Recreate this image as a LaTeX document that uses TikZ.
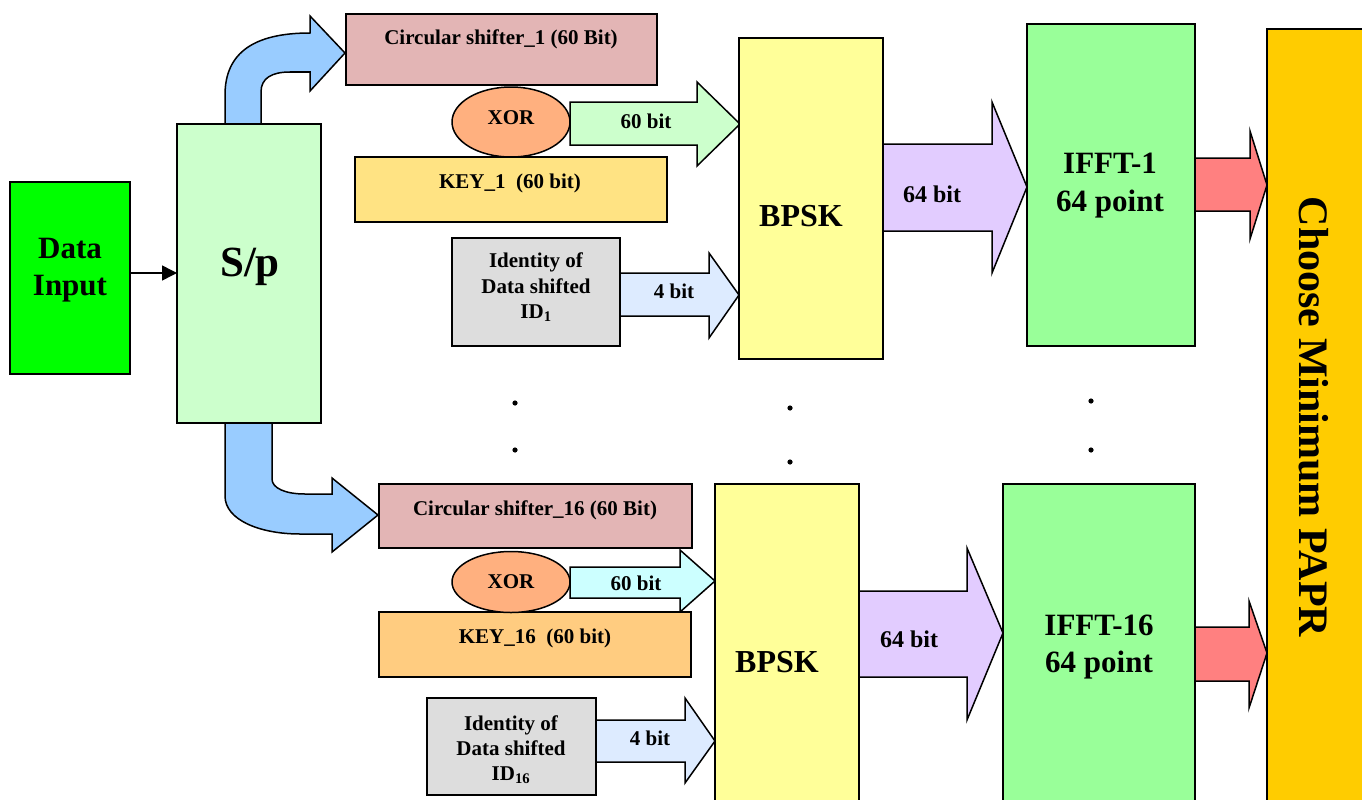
\documentclass[tikz,border=0pt]{standalone}
\usepackage{fontspec}
\setmainfont{Liberation Serif}
\usetikzlibrary{arrows.meta,shapes.geometric}
\newcommand\myfs[2]{\fontsize{#1}{#2}\selectfont\bfseries}
% block arrow: fill, x0, xbase, xtip, shaft top, shaft bottom, head top, head bottom, tip y
\newcommand\blockarr[9]{\draw[barr,fill=#1] (#2,#5) -- (#3,#5) -- (#3,#7) -- (#4,#9) -- (#3,#8) -- (#3,#6) -- (#2,#6) -- cycle;}
\newcommand\boxat[6]{\node[blk,fill=#2,minimum width={#5-#3},minimum height={#6-#4}] (#1) at ({(#3+#5)/2},{(#4+#6)/2}) {};}
\definecolor{cDin}{HTML}{00FF00}
\definecolor{cSp}{HTML}{CCFFCC}
\definecolor{cBlue}{HTML}{99CCFF}
\definecolor{cCs}{HTML}{E3B5B5}
\definecolor{cXor}{HTML}{FFB07F}
\definecolor{cSixtyA}{HTML}{CCFFCC}
\definecolor{cSixtyB}{HTML}{CCFFFF}
\definecolor{cKeyA}{HTML}{FFE383}
\definecolor{cKeyB}{HTML}{FFCC80}
\definecolor{cId}{HTML}{DDDDDD}
\definecolor{cFour}{HTML}{DDEBFF}
\definecolor{cBpsk}{HTML}{FFFF99}
\definecolor{cSixtyFour}{HTML}{E2CCFF}
\definecolor{cIfft}{HTML}{99FF99}
\definecolor{cRed}{HTML}{FF8080}
\definecolor{cChoose}{HTML}{FFCC00}
\begin{document}
\begin{tikzpicture}[x=1pt,y=-1pt,
  blk/.style={draw=black,line width=1.5pt,inner sep=0pt,outer sep=0pt},
  barr/.style={draw=black,line width=1.5pt,line join=miter},
  txt/.style={inner sep=0pt,anchor=base,font=\myfs{21}{25}},
  mid/.style={inner sep=0pt,anchor=base,font=\myfs{24}{28}},
  big/.style={inner sep=0pt,anchor=base,font=\myfs{31}{37}}]
\useasboundingbox (0,0) rectangle (1362,800);

% curved arrows from S/p
\draw[barr,fill=cBlue] (225,124) -- (225,95) .. controls (225,52) and (255,33) .. (310,33)
  -- (310,16) -- (345,53) -- (310,91) -- (310,72) -- (290,72)
  .. controls (272,72) and (261,78) .. (261,92) -- (261,124) -- cycle;
\draw[barr,fill=cBlue] (225,423) -- (225,496) .. controls (225,520) and (260,534) .. (300,534)
  -- (332,534) -- (332,552) -- (378,515) -- (332,478) -- (332,494) -- (305,494)
  .. controls (285,494) and (272,488) .. (272,479) -- (272,423) -- cycle;

% block arrows
\blockarr{cSixtyA}{570}{697}{740}{102}{145}{82}{166}{124}
\blockarr{cFour}{620}{709}{739}{273}{316}{253}{338}{295}
\blockarr{cSixtyFour}{883}{992}{1027}{144}{231}{102}{273}{187}
\blockarr{cRed}{1195}{1250}{1267}{158}{211}{131}{239}{185}
\blockarr{cSixtyB}{570}{680}{715}{567}{598}{550}{612}{581}
\blockarr{cFour}{596}{685}{715}{720}{762}{698}{783}{741}
\blockarr{cSixtyFour}{859}{967}{1003}{591}{677}{548}{720}{633}
\blockarr{cRed}{1195}{1249}{1267}{627}{681}{601}{708}{653}

% boxes
\boxat{din}{cDin}{10}{182}{130}{374}
\boxat{sp}{cSp}{177}{124}{321}{423}
\boxat{cs1}{cCs}{346}{14}{657}{85}
\boxat{key1}{cKeyA}{355}{157}{667}{222}
\boxat{id1}{cId}{452}{238}{620}{346}
\boxat{bpsk1}{cBpsk}{739}{38}{883}{359}
\boxat{ifft1}{cIfft}{1027}{24}{1195}{346}
\boxat{cs16}{cCs}{379}{484}{692}{548}
\boxat{key16}{cKeyB}{379}{612}{691}{677}
\boxat{id16}{cId}{427}{698}{596}{795}
\boxat{bpsk16}{cBpsk}{715}{484}{859}{806}
\boxat{ifft16}{cIfft}{1003}{484}{1195}{806}
\boxat{choose}{cChoose}{1267}{29}{1368}{806}
\node[blk,fill=cXor,ellipse,minimum width=118,minimum height=70] (xor1) at (511,122) {};
\node[blk,fill=cXor,ellipse,minimum width=118,minimum height=61] (xor16) at (511,582) {};

% input connector
\draw[line width=1.5pt,-{Triangle[length=15pt,width=15pt]}] (din.east |- 0,273) -- (sp.west |- 0,273);

% texts
\node[big] at (70,258) {Data};
\node[big] at (70,295) {Input};
\node[inner sep=0pt,anchor=base,font=\myfs{43}{50}] at (250,276) {S/p};
\node[txt] at (501,45) {Circular shifter\_1 (60 Bit)};
\node[txt] at (511,124) {XOR};
\node[txt] at (646,128) {60 bit};
\node[txt] at (510,188) {KEY\_1\ \ (60 bit)};
\node[txt] at (536,267) {Identity of};
\node[txt] at (536,293) {Data shifted};
\node[txt] at (536,318) {ID\textsubscript{1}};
\node[txt] at (674,298) {4 bit};
\node[inner sep=0pt,anchor=base,font=\myfs{32}{38}] at (801,226) {BPSK};
\node[mid] at (932,202) {64 bit};
\node[big] at (1110,173) {IFFT-1};
\node[big] at (1110,211) {64 point};

\node[txt] at (535,515) {Circular shifter\_16 (60 Bit)};
\node[txt] at (511,588) {XOR};
\node[txt] at (636,590) {60 bit};
\node[txt] at (535,643) {KEY\_16\ \ (60 bit)};
\node[txt] at (511,730) {Identity of};
\node[txt] at (511,755) {Data shifted};
\node[txt] at (511,780) {ID\textsubscript{16}};
\node[txt] at (650,745) {4 bit};
\node[inner sep=0pt,anchor=base,font=\myfs{32}{38}] at (777,672) {BPSK};
\node[mid] at (909,647) {64 bit};
\node[big] at (1099,635) {IFFT-16};
\node[big] at (1099,672) {64 point};

\node[inner sep=0pt,rotate=-90,font=\myfs{42}{48}] at (1314,417) {Choose Minimum PAPR};

% dots
\foreach \p in {(515,403),(515,450),(790,408),(790,462),(1091,401),(1091,450)}
  \fill \p circle (2.6);
\end{tikzpicture}
\end{document}
